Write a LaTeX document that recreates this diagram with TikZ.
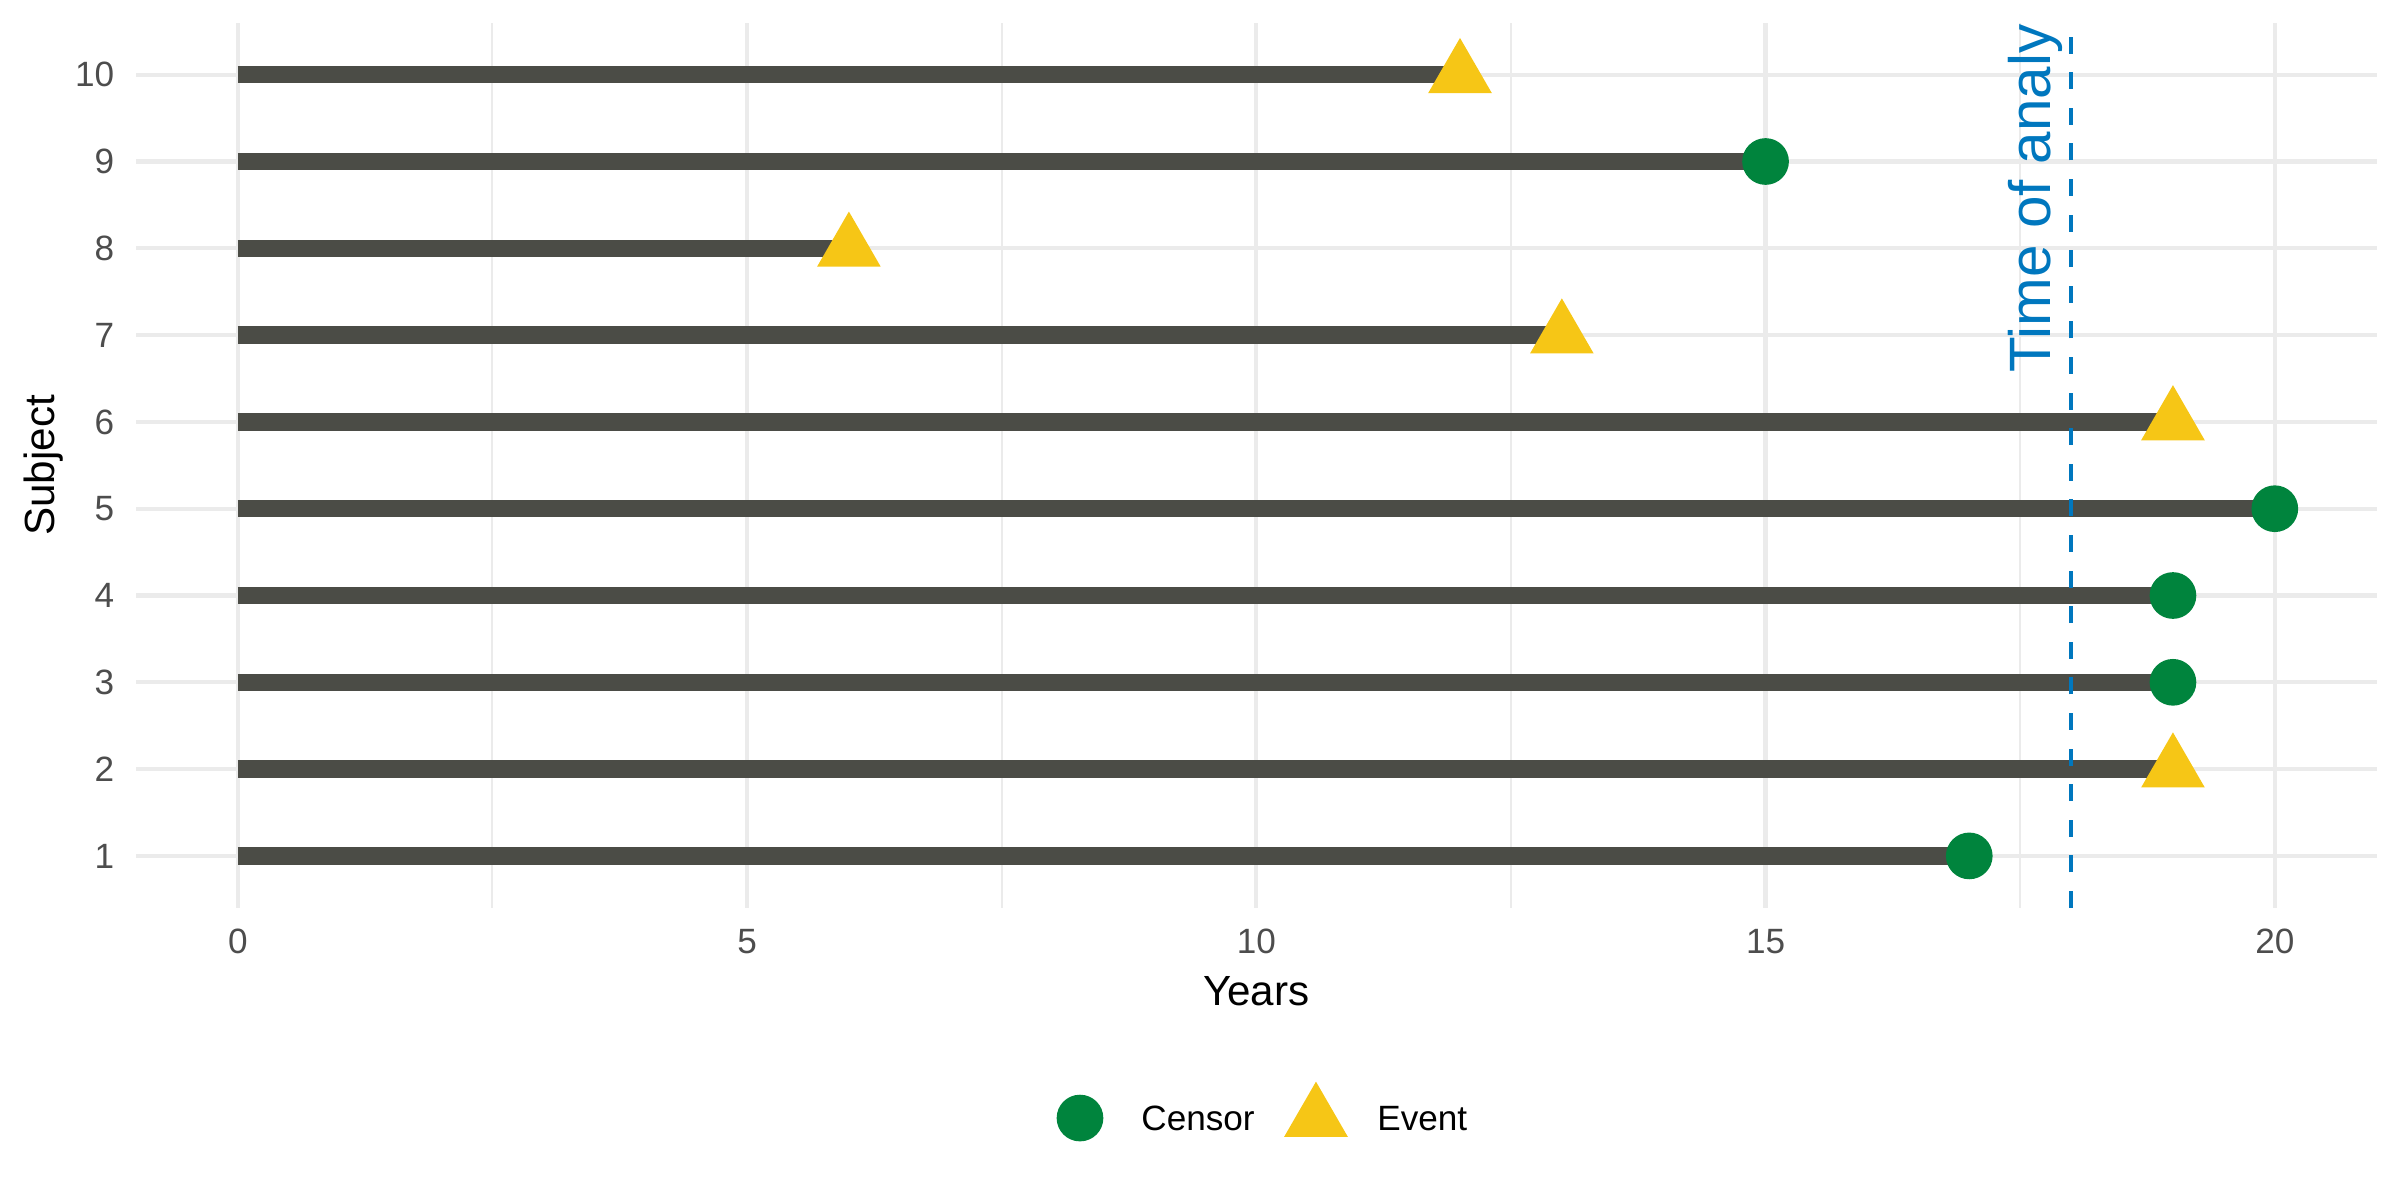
\documentclass[tikz,border=0pt]{standalone}
\usepackage{fontspec}
\setmainfont{Liberation Sans}
\usetikzlibrary{shapes.geometric, positioning}

\definecolor{barcol}{RGB}{75,76,70}
\definecolor{censorcol}{RGB}{0,132,61}
\definecolor{eventcol}{RGB}{246,198,22}
\definecolor{analysiscol}{RGB}{0,119,190}
\definecolor{gridcol}{RGB}{235,235,235}
\definecolor{tickcol}{RGB}{77,77,77}

\tikzset{
  censor/.style={circle, fill=censorcol, inner sep=0pt, minimum size=4.67mm},
  event/.style={regular polygon, regular polygon sides=3, fill=eventcol, inner sep=0pt, minimum size=7.35mm},
  bar/.style={barcol, line width=0.175cm},
  majorgrid/.style={gridcol, line width=1.2pt},
  minorgrid/.style={gridcol, line width=0.6pt},
  ticklabel/.style={tickcol, inner sep=0pt, font=\fontsize{10}{12}\selectfont},
  axistitle/.style={black, inner sep=0pt, font=\fontsize{12}{14}\selectfont},
  legendtext/.style={black, inner sep=0pt, font=\fontsize{10}{12}\selectfont},
  analysis/.style={analysiscol, line width=0.04cm, dash pattern=on 0.17cm off 0.186cm},
  analysistext/.style={analysiscol, inner sep=0pt, font=\fontsize{16.6}{19}\selectfont}
}

\begin{document}
\begin{tikzpicture}[x=1.0185cm, y=0.868cm]
\useasboundingbox (-2.3348,-2.9643) rectangle (21.2195,10.8606);

% panel grid
\foreach \x in {2.5,7.5,12.5,17.5}
    \draw[minorgrid] (\x,0.4) -- (\x,10.6);
\foreach \x in {0,5,...,20}
    \draw[majorgrid] (\x,0.4) -- (\x,10.6);
\foreach \s in {1,...,10}
    \draw[majorgrid] (-1,\s) -- (21,\s);

% subjects
\foreach \s/\t/\k in {1/17/censor, 2/19/event, 3/19/censor, 4/19/censor, 5/20/censor,
                      6/19/event, 7/13/event, 8/6/event, 9/15/censor, 10/12/event}{
    \coordinate (s\s) at (0,\s);
    \coordinate (e\s) at (\t,\s);
    \draw[bar] (s\s) -- (e\s);
    \node[\k] (m\s) at (e\s) {};
}

% time of analysis
\coordinate (abot) at (18,0.4);
\coordinate (atop) at (18,10.6);
\draw[analysis] (abot) -- (atop);
\node[analysistext, rotate=90, anchor=base west] (alabel) at (17.80,6.560) {Time of analy};

% axes
\foreach \x in {0,5,...,20}
    \node[ticklabel, anchor=base] (x\x) at (\x,-0.130) {\x};
\foreach \s in {1,...,10}
    \node[ticklabel, anchor=east] (y\s) at (-1.206,\s) {\s};
\node[axistitle, anchor=base] (xtitle) at (10,-0.718) {Years};
\node[axistitle, anchor=base, rotate=90] (ytitle) at (-1.802,5.5) {Subject};

% legend
\node[censor] (lcensor) at (8.269,-2.020) {};
\node[legendtext, anchor=base west] (tcensor) at (8.865,-2.169) {Censor};
\node[event] (levent) at (10.586,-2.024) {};
\node[legendtext, anchor=base west] (tevent) at (11.182,-2.169) {Event};
\end{tikzpicture}
\end{document}
